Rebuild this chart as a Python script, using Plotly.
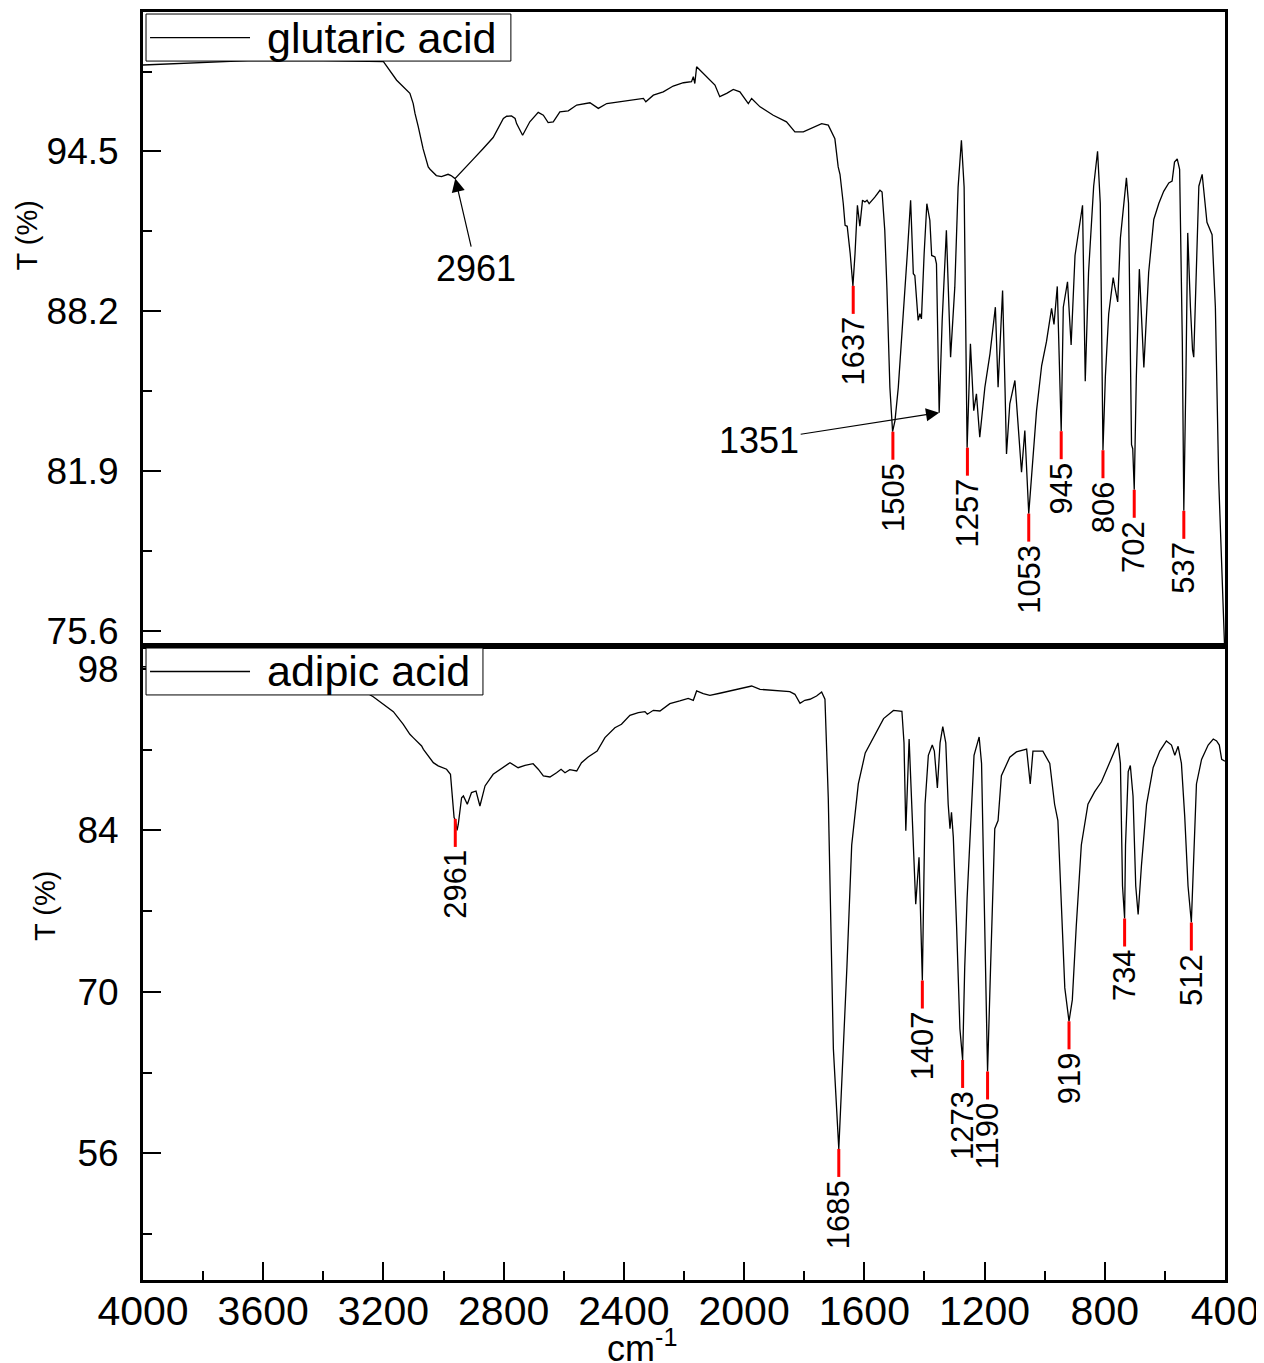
import plotly.graph_objects as go
from plotly.subplots import make_subplots

# glutaric acid spectrum (wavenumber cm-1, transmittance %)
glutaric_wn = [4000, 3800, 3650, 3400, 3250, 3200, 3156, 3145, 3123, 3112, 3101, 3095, 3084, 3073, 3068,
               3051, 3045, 3024, 3007, 2985, 2975, 2962, 2934, 2901, 2868, 2835, 2801, 2790, 2774, 2762,
               2757, 2737, 2713, 2685, 2668, 2652, 2635, 2613, 2585, 2557, 2513, 2485, 2457, 2413, 2369,
               2335, 2327, 2302, 2269, 2236, 2202, 2175, 2169, 2164, 2158, 2136, 2114, 2097, 2081, 2058,
               2036, 2014, 1986, 1975, 1947, 1903, 1859, 1831, 1803, 1770, 1742, 1720, 1705, 1698, 1687,
               1681, 1670, 1664, 1657, 1647, 1638, 1631, 1623, 1615, 1606, 1598, 1591, 1584, 1565, 1548,
               1541, 1532, 1525, 1515, 1506, 1498, 1487, 1471, 1457, 1446, 1437, 1432, 1421, 1415, 1410,
               1401, 1392, 1382, 1376, 1365, 1360, 1351, 1341, 1327, 1319, 1313, 1299, 1288, 1277, 1268,
               1258, 1247, 1236, 1227, 1216, 1199, 1182, 1164, 1155, 1140, 1132, 1127, 1116, 1099, 1077,
               1066, 1053, 1044, 1027, 1010, 994, 977, 969, 958, 945, 938, 924, 912, 899, 874,
               865, 854, 837, 824, 815, 806, 798, 787, 772, 767, 757, 748, 728, 721, 711,
               707, 702, 695, 685, 670, 654, 637, 620, 604, 587, 576, 568, 559, 551, 542,
               537, 530, 524, 515, 508, 504, 495, 487, 476, 465, 460, 443, 432, 421, 405, 400]
glutaric_t = [97.91, 98.02, 98.08, 98.08, 98.06, 98.04, 97.31, 97.18, 96.92, 96.79, 96.39, 96.0, 95.47, 94.81, 94.6,
              93.89, 93.8, 93.55, 93.51, 93.6, 93.55, 93.43, 93.8, 94.2, 94.62, 95.05, 95.8, 95.89, 95.9, 95.8,
              95.6, 95.14, 95.67, 96.04, 95.93, 95.64, 95.67, 96.06, 96.1, 96.33, 96.42, 96.2, 96.39, 96.46, 96.55,
              96.59, 96.46, 96.72, 96.85, 97.08, 97.21, 97.25, 97.45, 97.18, 97.84, 97.58, 97.31, 97.12, 96.66, 96.79,
              96.95, 96.85, 96.39, 96.59, 96.26, 95.93, 95.67, 95.27, 95.27, 95.45, 95.6, 95.54, 95.2, 95.0, 93.89,
              93.6, 92.44, 91.59, 91.55, 90.47, 89.2, 90.47, 92.38, 91.55, 92.58, 92.51, 92.58, 92.44, 92.7, 92.97,
              92.9, 91.39, 89.15, 85.2, 83.45, 83.89, 85.2, 87.84, 90.47, 92.58, 89.68, 89.61, 87.84, 88.1, 87.9,
              90.47, 92.44, 91.79, 90.4, 90.34, 90.07, 84.2, 87.84, 91.39, 88.49, 86.39, 89.15, 93.1, 94.94, 93.1,
              82.82, 86.92, 84.28, 84.94, 83.23, 85.2, 86.52, 88.36, 85.2, 89.02, 85.2, 82.57, 84.55, 85.47, 81.85,
              83.5, 80.22, 81.56, 84.28, 86.06, 87.0, 88.31, 87.68, 89.18, 83.47, 88.36, 89.36, 86.87, 90.4, 92.38,
              85.44, 89.73, 93.13, 94.51, 92.46, 82.72, 85.64, 88.09, 89.53, 89.18, 88.57, 91.09, 93.46, 92.46, 82.94,
              82.78, 81.16, 85.64, 89.86, 85.98, 89.73, 91.82, 92.46, 92.93, 93.26, 93.33, 94.08, 94.21, 93.8, 87.0,
              80.33, 85.64, 91.29, 88.36, 86.67, 86.39, 90.4, 93.13, 93.6, 92.46, 91.71, 91.22, 88.36, 81.56, 75.3, 74.5]

# adipic acid spectrum
adipic_wn = [4000, 3600, 3400, 3300, 3234, 3167, 3134, 3112, 3101, 3073, 3067, 3040, 3034, 3018, 3006,
             2990, 2977, 2968, 2965, 2961, 2955, 2951, 2946, 2940, 2934, 2921, 2907, 2892, 2879, 2862,
             2835, 2812, 2779, 2752, 2729, 2702, 2685, 2668, 2646, 2624, 2609, 2596, 2580, 2557, 2541,
             2519, 2489, 2463, 2430, 2408, 2380, 2352, 2330, 2322, 2302, 2280, 2247, 2214, 2186, 2169,
             2158, 2136, 2114, 2081, 2047, 2014, 1992, 1975, 1947, 1892, 1848, 1831, 1814, 1798, 1781,
             1759, 1742, 1731, 1726, 1720, 1714, 1703, 1685, 1670, 1658, 1642, 1620, 1597, 1564, 1536,
             1503, 1475, 1468, 1462, 1451, 1442, 1429, 1418, 1407, 1398, 1387, 1374, 1367, 1357, 1348,
             1339, 1329, 1321, 1315, 1310, 1304, 1293, 1282, 1273, 1266, 1258, 1249, 1235, 1218, 1210,
             1202, 1190, 1180, 1166, 1155, 1144, 1116, 1094, 1060, 1055, 1048, 1039, 1006, 983, 967,
             956, 944, 933, 919, 913, 908, 895, 878, 856, 834, 811, 784, 756, 748, 741,
             734, 731, 722, 715, 706, 697, 689, 678, 661, 639, 617, 595, 578, 567, 556,
             545, 534, 523, 512, 506, 495, 478, 456, 439, 428, 419, 411, 400]
adipic_t = [98.2, 98.0, 97.4, 96.6, 95.6, 94.3, 93.21, 92.34, 92.05, 91.33, 91.04, 90.03, 89.88, 89.6, 89.5,
            89.31, 88.87, 86.27, 85.11, 84.9, 84.0, 84.54, 85.69, 86.84, 86.99, 86.27, 87.28, 87.42, 86.12, 87.86,
            88.87, 89.31, 89.88, 89.44, 89.65, 89.79, 89.31, 88.73, 88.64, 89.01, 89.31, 89.01, 89.27, 89.16, 89.88,
            90.37, 90.89, 92.05, 92.91, 93.21, 93.99, 94.22, 94.31, 94.08, 94.42, 94.36, 95.0, 95.23, 95.46, 95.29,
            96.1, 95.86, 95.72, 95.9, 96.1, 96.24, 96.38, 96.53, 96.24, 96.16, 96.04, 95.81, 95.03, 95.29, 95.38,
            95.66, 96.01, 95.38, 92.05, 86.84, 79.18, 65.05, 56.37, 65.05, 72.12, 82.74, 88.03, 90.72, 92.28, 93.7,
            94.41, 94.34, 91.59, 83.97, 91.93, 86.27, 77.6, 81.67, 70.98, 86.27, 90.52, 91.41, 90.88, 87.68, 91.59,
            93.0, 91.59, 86.27, 84.15, 85.57, 83.44, 75.65, 66.8, 64.09, 72.12, 78.14, 82.74, 90.52, 92.11, 89.82,
            79.18, 63.09, 72.12, 84.15, 84.86, 88.75, 90.35, 90.81, 91.05, 89.82, 88.03, 90.88, 90.88, 89.82, 86.27,
            84.86, 77.42, 70.34, 67.44, 68.58, 69.3, 75.65, 82.74, 86.27, 87.34, 88.22, 89.82, 91.59, 89.82, 79.18,
            76.36, 82.74, 89.1, 89.63, 86.99, 79.18, 76.71, 80.96, 86.27, 89.46, 90.88, 91.76, 91.41, 90.52, 91.3,
            89.82, 85.21, 79.18, 76.01, 80.96, 88.03, 90.16, 91.41, 91.93, 91.76, 91.41, 90.16, 90.0]

# labelled peaks
glutaric_peaks = [1637, 1505, 1257, 1053, 945, 806, 702, 537]
glutaric_peak_t = [89.2, 83.45, 82.82, 80.22, 83.47, 82.72, 81.16, 80.33]
adipic_peaks = [2961, 1685, 1407, 1273, 1190, 919, 734, 512]
adipic_peak_t = [85.0, 56.37, 70.98, 64.09, 63.09, 67.44, 76.36, 76.01]

x_ticks = [4000, 3600, 3200, 2800, 2400, 2000, 1600, 1200, 800, 400]
x_minor = [3800, 3400, 3000, 2600, 2200, 1800, 1400, 1000, 600]
glut_yticks = [75.6, 81.9, 88.2, 94.5]
glut_yminor = [78.75, 85.05, 91.35, 97.65]
adip_yticks = [56, 70, 84, 98]
adip_yminor = [49, 63, 77, 91]

ARIAL = "Liberation Sans, Arial, sans-serif"

fig = make_subplots(rows=2, cols=1, shared_xaxes=True, vertical_spacing=0)

fig.add_trace(go.Scatter(x=glutaric_wn, y=glutaric_t, mode="lines", name="glutaric acid",
                         line=dict(color="black", width=1.3), showlegend=False), row=1, col=1)
fig.add_trace(go.Scatter(x=adipic_wn, y=adipic_t, mode="lines", name="adipic acid",
                         line=dict(color="black", width=1.3), showlegend=False), row=2, col=1)


def label_peaks(peaks, values, xref, yref):
    for wn, t in zip(peaks, values):
        fig.add_shape(type="line", xref=xref, yref=yref, x0=wn, x1=wn,
                      ysizemode="pixel", yanchor=t, y0=0, y1=-28,
                      line=dict(color="red", width=3))
        fig.add_annotation(x=wn, y=t, xref=xref, yref=yref, text=str(wn), showarrow=False,
                           textangle=-90, xanchor="center", yanchor="top", yshift=-29,
                           font=dict(family=ARIAL, size=31, color="black"))


label_peaks(glutaric_peaks, glutaric_peak_t, "x", "y")
label_peaks(adipic_peaks, adipic_peak_t, "x2", "y2")

# arrow labels in the top panel
fig.add_annotation(x=2961, y=93.43, xref="x", yref="y", text="2961", ax=21, ay=90,
                   showarrow=True, arrowhead=2, arrowsize=2.2, arrowwidth=1.2, arrowcolor="black",
                   font=dict(family=ARIAL, size=36, color="black"))
fig.add_annotation(x=1351, y=84.2, xref="x", yref="y", text="1351", ax=-180, ay=28,
                   showarrow=True, arrowhead=2, arrowsize=2.2, arrowwidth=1.2, arrowcolor="black",
                   font=dict(family=ARIAL, size=36, color="black"))


# legend boxes drawn by hand (long sample line like the original)
def legend_box(y_bot, y_top, x_right, label):
    y_mid = (y_bot + y_top) / 2
    fig.add_shape(type="rect", xref="paper", yref="paper", x0=0.0028, x1=x_right, y0=y_bot, y1=y_top,
                  fillcolor="white", line=dict(color="black", width=1), layer="above")
    fig.add_shape(type="line", xref="paper", yref="paper", x0=0.0065, x1=0.0989, y0=y_mid, y1=y_mid,
                  line=dict(color="black", width=1.3), layer="above")
    fig.add_annotation(x=0.1128, y=y_mid, xref="paper", yref="paper", text=label, showarrow=False,
                       xanchor="left", yanchor="middle", font=dict(family=ARIAL, size=43, color="black"))


legend_box(0.9613, 0.9984, 0.340, "glutaric acid")
legend_box(0.4614, 0.4984, 0.3142, "adipic acid")

# axis titles
fig.add_annotation(x=-0.107, y=0.824, xref="paper", yref="paper", text="T (%)", showarrow=False,
                   textangle=-90, xanchor="center", yanchor="middle",
                   font=dict(family=ARIAL, size=29, color="black"))
fig.add_annotation(x=-0.0906, y=0.295, xref="paper", yref="paper", text="T (%)", showarrow=False,
                   textangle=-90, xanchor="center", yanchor="middle",
                   font=dict(family=ARIAL, size=29, color="black"))
fig.add_annotation(x=0.461, y=-0.0715, xref="paper", yref="paper", text="cm<sup>-1</sup>", showarrow=False,
                   xanchor="center", yanchor="bottom", font=dict(family=ARIAL, size=36, color="black"))

fig.update_xaxes(range=[4000, 400], showline=True, linewidth=3, linecolor="black", mirror=True,
                 showgrid=False, zeroline=False, automargin=False)
fig.update_xaxes(row=1, col=1, ticks="", showticklabels=False)
fig.update_xaxes(row=2, col=1, ticks="inside", ticklen=18, tickwidth=2, tickcolor="black",
                 tickmode="array", tickvals=x_ticks, ticktext=[str(v) for v in x_ticks],
                 minor=dict(tickmode="array", tickvals=x_minor, ticks="inside", ticklen=9,
                            tickwidth=2, tickcolor="black"),
                 tickfont=dict(family=ARIAL, size=41, color="black"), ticklabelstandoff=-7)

fig.update_yaxes(showline=True, linewidth=3, linecolor="black", mirror=True, showgrid=False,
                 zeroline=False, automargin=False, ticks="inside", ticklen=18, tickwidth=2,
                 tickcolor="black", tickfont=dict(family=ARIAL, size=37, color="black"),
                 ticklabelstandoff=14)
fig.update_yaxes(row=1, col=1, range=[75, 100], tickmode="array", tickvals=glut_yticks,
                 ticktext=[str(v) for v in glut_yticks],
                 minor=dict(tickmode="array", tickvals=glut_yminor, ticks="inside", ticklen=9,
                            tickwidth=2, tickcolor="black"))
fig.update_yaxes(row=2, col=1, range=[45, 100], tickmode="array", tickvals=adip_yticks,
                 ticktext=[str(v) for v in adip_yticks],
                 minor=dict(tickmode="array", tickvals=adip_yminor, ticks="inside", ticklen=9,
                            tickwidth=2, tickcolor="black"))

# the page body adds an 8 px margin, so the figure is sized to fit inside the window
fig.update_layout(width=1256, height=1355, margin=dict(l=135, r=39, t=4, b=83),
                  paper_bgcolor="white", plot_bgcolor="white", showlegend=False)

fig.write_html("out.html")
